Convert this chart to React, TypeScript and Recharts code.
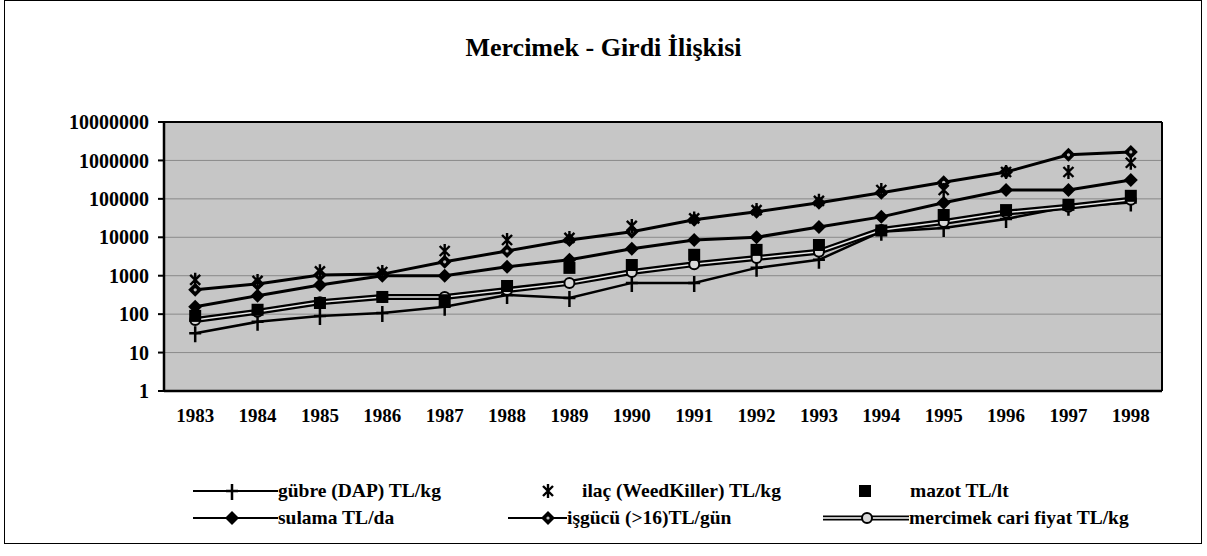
import React from 'react';
import { LineChart, Line, XAxis, YAxis, CartesianGrid, Legend, ReferenceLine } from 'recharts';

const YEARS = [1983, 1984, 1985, 1986, 1987, 1988, 1989, 1990, 1991, 1992, 1993, 1994, 1995, 1996, 1997, 1998];
const GUBRE = [32, 63, 90, 107, 155, 315, 265, 650, 650, 1600, 2600, 14000, 17500, 30000, 62000, 80000];
const ILAC = [780, 730, 1300, 1250, 4400, 8500, 9600, 19700, 31000, 51000, 89000, 170000, 170000, 500000, 500000, 870000];
const MAZOT = [90, 130, 195, 280, 230, 540, 1600, 1900, 3500, 4700, 6300, 15000, 38000, 51000, 70000, 120000];
const SULAMA = [155, 300, 570, 1000, 1000, 1700, 2600, 5000, 8500, 10000, 18500, 34000, 79000, 170000, 170000, 310000];
const ISGUCU = [430, 610, 1050, 1100, 2300, 4400, 8500, 14000, 28500, 46000, 79000, 145000, 270000, 500000, 1400000, 1660000];
const MERCIMEK = [70, 115, 205, 280, 280, 425, 650, 1250, 2000, 2900, 4200, 15500, 25000, 44000, 62000, 95000];
const Y_TICKS = [1, 10, 100, 1000, 10000, 100000, 1000000, 10000000];
const X_BOUNDS = [...YEARS.map(y => y - 0.5), YEARS[YEARS.length - 1] + 0.5];

const data = YEARS.map((year, i) => ({
  year,
  gubre: GUBRE[i],
  ilac: ILAC[i],
  mazot: MAZOT[i],
  sulama: SULAMA[i],
  isgucu: ISGUCU[i],
  mercimek: MERCIMEK[i],
}));

const FONT = '"Liberation Serif", "Tinos", "DejaVu Serif", serif';

// marker shapes (drawn around cx, cy)
type Kind = 'plus' | 'star' | 'square' | 'diamond' | 'diamondHollow' | 'circle';

const Marker = ({ kind, cx, cy }: { kind: Kind; cx: number; cy: number }) => {
  switch (kind) {
    case 'plus':
      return <path d={`M${cx},${cy - 7}V${cy + 9}M${cx - 6},${cy}H${cx + 6}`} stroke="#000" strokeWidth={2.5} fill="none" />;
    case 'star':
      return (
        <path
          d={`M${cx - 5},${cy - 5}L${cx + 5},${cy + 5}M${cx + 5},${cy - 5}L${cx - 5},${cy + 5}M${cx},${cy - 7}V${cy + 7}`}
          stroke="#000" strokeWidth={2.4} fill="none"
        />
      );
    case 'square':
      return <rect x={cx - 6} y={cy - 6} width={12} height={12} fill="#000" />;
    case 'diamond':
      return <path d={`M${cx},${cy - 7}L${cx + 7},${cy}L${cx},${cy + 7}L${cx - 7},${cy}Z`} fill="#000" />;
    case 'diamondHollow':
      return (
        <g>
          <path d={`M${cx},${cy - 7}L${cx + 7},${cy}L${cx},${cy + 7}L${cx - 7},${cy}Z`} fill="#000" />
          <circle cx={cx} cy={cy} r={1.6} fill="#bbb" />
        </g>
      );
    case 'circle':
      return <circle cx={cx} cy={cy} r={5} fill="#d8d8d8" stroke="#000" strokeWidth={2} />;
  }
  return null;
};

const dotOf = (kind: Kind) => (p: any) => (
  <g key={`${kind}-${p.index}`}>
    {p.cx != null && p.cy != null && <Marker kind={kind} cx={p.cx} cy={p.cy} />}
  </g>
);

// legend items: icon box left edge, width, marker position, text start
const LEGEND_ITEMS = [
  { label: 'gübre (DAP) TL/kg', kind: 'plus' as Kind, line: 'solid', x: 193, w: 85, mx: 39, row: 0 },
  { label: 'ilaç (WeedKiller) TL/kg', kind: 'star' as Kind, line: 'none', x: 508, w: 74, mx: 40, row: 0 },
  { label: 'mazot TL/lt', kind: 'square' as Kind, line: 'none', x: 823, w: 87, mx: 42, row: 0 },
  { label: 'sulama TL/da', kind: 'diamond' as Kind, line: 'solid', x: 193, w: 85, mx: 39, row: 1 },
  { label: 'işgücü (>16)TL/gün', kind: 'diamondHollow' as Kind, line: 'solid', x: 508, w: 59, mx: 40, row: 1 },
  { label: 'mercimek cari fiyat TL/kg', kind: 'circle' as Kind, line: 'double', x: 823, w: 86, mx: 44, row: 1 },
];

const Legend_ = () => (
  <div style={{ position: 'relative', width: 1207, height: 60, fontFamily: FONT }}>
    {LEGEND_ITEMS.map(it => (
      <div key={it.label} style={{
        position: 'absolute', left: it.x, top: it.row * 27, height: 24,
        display: 'flex', alignItems: 'center', whiteSpace: 'nowrap',
      }}>
        <svg width={it.w} height={20} style={{ display: 'block' }}>
          {it.line === 'solid' && <line x1={0} y1={10} x2={it.w} y2={10} stroke="#000" strokeWidth={2} />}
          {it.line === 'double' && (
            <g>
              <line x1={0} y1={10} x2={it.w} y2={10} stroke="#000" strokeWidth={5} />
              <line x1={0} y1={10} x2={it.w} y2={10} stroke="#fff" strokeWidth={1.5} />
            </g>
          )}
          <Marker kind={it.kind} cx={it.mx} cy={10} />
        </svg>
        <span style={{ fontSize: 19.5, fontWeight: 'bold', color: '#000' }}>{it.label}</span>
      </div>
    ))}
  </div>
);

export default function App() {
  return (
    <div style={{ position: 'absolute', left: 0, top: 0, width: 1207, height: 556, background: '#fff', fontFamily: FONT }}>
      <div style={{
        position: 'absolute', left: 4, top: 0, width: 1198, height: 544,
        border: '1.5px solid #000', boxSizing: 'border-box',
      }} />
      <div style={{
        position: 'absolute', left: 0, top: 33, width: 1207, textAlign: 'center',
        fontSize: 26, fontWeight: 'bold', color: '#000',
      }}>
        Mercimek - Girdi İlişkisi
      </div>
      <LineChart width={1207} height={556} data={data}
        margin={{ top: 122, right: 45, left: 0, bottom: 117 }}
        style={{ position: 'absolute', left: 0, top: 0 }}>
        <CartesianGrid xAxisId="a" vertical={false} fill="#c6c6c6" stroke="#8a8a8a" strokeWidth={1} />
        <XAxis xAxisId="a" dataKey="year" type="number" domain={[1982.5, 1998.5]} ticks={X_BOUNDS}
          tick={false} tickSize={6} height={8} axisLine={{ stroke: '#000', strokeWidth: 2.5 }}
          tickLine={{ stroke: '#000', strokeWidth: 2 }} allowDecimals />
        <XAxis xAxisId="b" dataKey="year" type="number" domain={[1982.5, 1998.5]} ticks={YEARS} height={40}
          axisLine={false} tickLine={false} tickSize={0} tickMargin={10}
          tick={{ fill: '#000', fontSize: 19, fontWeight: 'bold', fontFamily: FONT }} />
        <YAxis scale="log" domain={[1, 10000000]} ticks={Y_TICKS} width={164} allowDataOverflow
          axisLine={{ stroke: '#000', strokeWidth: 2.5 }} tickLine={{ stroke: '#000', strokeWidth: 2 }}
          tickSize={6} tickMargin={9} interval={0}
          tickFormatter={(v: number) => String(v)}
          tick={{ fill: '#000', fontSize: 20, fontWeight: 'bold', fontFamily: FONT }} />
        <ReferenceLine xAxisId="a" y={10000000} stroke="#000" strokeWidth={2} />
        <ReferenceLine xAxisId="a" x={1998.5} stroke="#000" strokeWidth={2} />
        <Legend verticalAlign="middle" align="center" layout="horizontal"
          wrapperStyle={{ left: 0, top: 479, width: 1207, height: 60 }}
          content={() => <Legend_ />} />

        <Line xAxisId="a" dataKey="gubre" name="gübre (DAP) TL/kg" stroke="#000" strokeWidth={2.5}
          dot={dotOf('plus')} activeDot={false} isAnimationActive={false} />
        <Line xAxisId="a" dataKey="mercimek" stroke="#000" strokeWidth={6} dot={false} activeDot={false}
          legendType="none" isAnimationActive={false} />
        <Line xAxisId="a" dataKey="mercimek" name="mercimek cari fiyat TL/kg" stroke="#e8e8e8" strokeWidth={1.5}
          dot={dotOf('circle')} activeDot={false} isAnimationActive={false} />
        <Line xAxisId="a" dataKey="sulama" name="sulama TL/da" stroke="#000" strokeWidth={3}
          dot={dotOf('diamond')} activeDot={false} isAnimationActive={false} />
        <Line xAxisId="a" dataKey="isgucu" name="işgücü (>16)TL/gün" stroke="#000" strokeWidth={3}
          dot={dotOf('diamondHollow')} activeDot={false} isAnimationActive={false} />
        <Line xAxisId="a" dataKey="mazot" name="mazot TL/lt" stroke="none" strokeWidth={0}
          dot={dotOf('square')} activeDot={false} isAnimationActive={false} />
        <Line xAxisId="a" dataKey="ilac" name="ilaç (WeedKiller) TL/kg" stroke="none" strokeWidth={0}
          dot={dotOf('star')} activeDot={false} isAnimationActive={false} />
      </LineChart>
    </div>
  );
}
